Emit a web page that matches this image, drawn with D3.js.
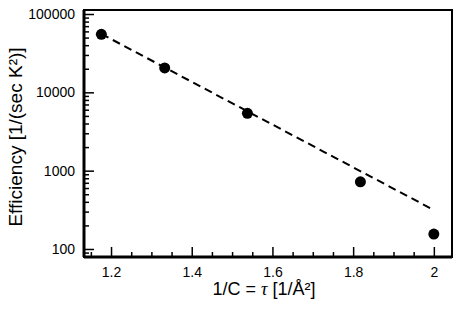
<!DOCTYPE html>
<html>
<head>
  <script src="https://d3js.org/d3.v7.min.js"></script>
  <style>
    body { margin: 0; background: #fff; }
    text { font-family: "Liberation Sans", Arial, sans-serif; }
  </style>
</head>
<body>
<div id="chart"></div>
<script>
  // measured points
  var tau = [1.176, 1.333, 1.538, 1.818, 2.0];
  var efficiency = [55000, 20500, 5400, 720, 155];

  // fitted line (dashed), end points
  var fitTau = [1.176, 2.0];
  var fitEff = [55700, 314];

  var xTicks = [1.2, 1.4, 1.6, 1.8, 2];
  var yTicks = [100, 1000, 10000, 100000];

  var W = 463, H = 309;
  var m = {top: 10, right: 11, bottom: 52, left: 84};
  var w = W - m.left - m.right,
      h = H - m.top - m.bottom;

  var x = d3.scaleLinear().domain([1.133, 2.045]).range([0, w]);
  var y = d3.scaleLog().domain([79, 112500]).range([h, 0]);

  var svg = d3.select("#chart").append("svg")
      .attr("width", W)
      .attr("height", H);
  var g = svg.append("g")
      .attr("transform", "translate(" + m.left + "," + m.top + ")");

  // minor ticks
  var xMinor = d3.range(1.15, 2.04, 0.05).filter(function(v) {
    return xTicks.every(function(t) { return Math.abs(t - v) > 1e-6; });
  });
  var yMinor = [];
  [10, 100, 1000, 10000, 100000].forEach(function(d) {
    for (var k = 2; k <= 9; k++) {
      var v = d * k;
      if (v >= y.domain()[0] && v <= y.domain()[1]) yMinor.push(v);
    }
  });

  g.append("g")
      .attr("transform", "translate(0," + h + ")")
      .call(d3.axisBottom(x).tickValues(xMinor).tickSizeInner(-5).tickSizeOuter(0).tickFormat(""));
  g.append("g")
      .call(d3.axisLeft(y).tickValues(yMinor).tickSizeInner(-5).tickSizeOuter(0).tickFormat(""));

  // major ticks with labels
  var xAxis = g.append("g")
      .attr("transform", "translate(0," + h + ")")
      .call(d3.axisBottom(x).tickValues(xTicks).tickSizeInner(-10).tickSizeOuter(0)
        .tickPadding(10).tickFormat(d3.format("")));
  var yAxis = g.append("g")
      .call(d3.axisLeft(y).tickValues(yTicks).tickSizeInner(-10).tickSizeOuter(0)
        .tickPadding(9).tickFormat(d3.format("d")));

  g.selectAll(".tick line").attr("stroke", "#000").attr("stroke-width", 1.5);
  g.selectAll(".domain").remove();
  g.selectAll(".tick text")
      .attr("font-family", "Liberation Sans, Arial, sans-serif")
      .attr("font-size", 14)
      .attr("fill", "#000");

  // frame
  g.append("rect")
      .attr("width", w).attr("height", h)
      .attr("fill", "none")
      .attr("stroke", "#000")
      .attr("stroke-width", 2);
  g.append("line")
      .attr("x1", 0).attr("x2", 0).attr("y1", 0).attr("y2", h)
      .attr("stroke", "#000").attr("stroke-width", 3);
  g.append("line")
      .attr("x1", 0).attr("x2", w).attr("y1", h).attr("y2", h)
      .attr("stroke", "#000").attr("stroke-width", 3);

  // dashed fit
  var line = d3.line()
      .x(function(d) { return x(d[0]); })
      .y(function(d) { return y(d[1]); });
  g.append("path")
      .datum(d3.zip(fitTau, fitEff))
      .attr("d", line)
      .attr("fill", "none")
      .attr("stroke", "#000")
      .attr("stroke-width", 2)
      .attr("stroke-dasharray", "8,5");

  // points
  g.selectAll(".pt")
      .data(d3.zip(tau, efficiency))
      .join("circle")
      .attr("class", "pt")
      .attr("cx", function(d) { return x(d[0]); })
      .attr("cy", function(d) { return y(d[1]); })
      .attr("r", 5.5)
      .attr("fill", "#000");

  // axis labels
  var xl = svg.append("text")
      .attr("x", 264)
      .attr("y", 295)
      .attr("text-anchor", "middle")
      .attr("font-size", 18)
      .attr("fill", "#000");
  xl.append("tspan").text("1/C = ");
  xl.append("tspan").attr("font-family", "Liberation Serif, Times New Roman, serif")
      .attr("font-style", "italic").text("τ");
  xl.append("tspan").text(" [1/Å²]");

  svg.append("text")
      .attr("transform", "translate(22,137) rotate(-90)")
      .attr("text-anchor", "middle")
      .attr("font-size", 19)
      .attr("fill", "#000")
      .text("Efficiency [1/(sec K²)]");
</script>
</body>
</html>
